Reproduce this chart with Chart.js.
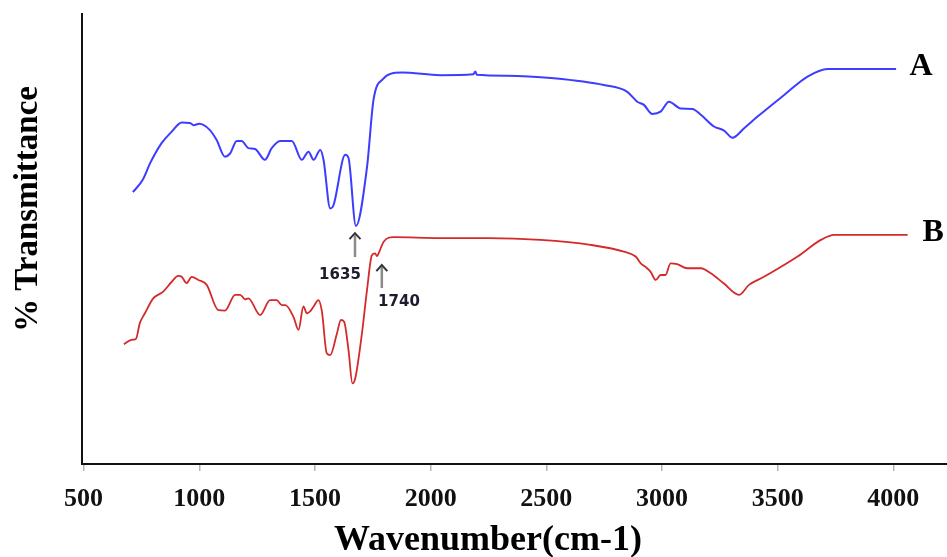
<!DOCTYPE html>
<html>
<head>
<meta charset="utf-8">
<title>FTIR spectra</title>
<script src="https://cdn.jsdelivr.net/npm/chart.js@4.4.1/dist/chart.umd.min.js"></script>
<style>
  html, body { margin: 0; padding: 0; background: #fff; }
  #wrap { width: 947px; height: 557px; }
</style>
</head>
<body>
<div id="wrap"><canvas id="ftir" width="947" height="557"></canvas></div>
<script>
// spectrum A (blue)
const wavenumberA = [713, 757, 787, 837, 880, 924, 960, 975, 1000, 1046, 1075, 1111, 1133, 1162, 1183, 1212, 1241, 1284, 1313, 1349, 1400, 1443, 1472, 1494, 1523, 1537, 1566, 1580, 1631, 1645, 1677, 1725, 1753, 1797, 1826, 1876, 2042, 2185, 2193, 2200, 2331, 2533, 2749, 2850, 2893, 2922, 2958, 2994, 3030, 3081, 3132, 3168, 3225, 3268, 3305, 3355, 3413, 3528, 3629, 3716, 4012];
const transA = [60.4, 63.3, 66.8, 71.3, 73.8, 75.9, 75.8, 75.3, 75.6, 74.2, 72, 68.3, 69, 71.8, 71.8, 70.2, 70, 67.6, 70.2, 71.8, 71.8, 67.6, 69.4, 67.6, 69.8, 67.6, 56.8, 57.5, 68.7, 68, 52.9, 66, 80.9, 85.7, 86.7, 87, 86.4, 86.6, 87.2, 86.5, 86.3, 85.7, 84.2, 82.7, 80.5, 79.8, 77.8, 78.3, 80.5, 79, 78.9, 77.6, 75, 74.1, 72.5, 74.6, 77.2, 82, 86.1, 87.8, 87.8];

// spectrum B (red)
const wavenumberB = [674, 707, 726, 743, 765, 801, 844, 881, 909, 924, 945, 967, 996, 1032, 1082, 1111, 1155, 1177, 1198, 1212, 1263, 1306, 1335, 1357, 1372, 1407, 1429, 1450, 1465, 1479, 1494, 1515, 1530, 1551, 1566, 1595, 1612, 1626, 1645, 1662, 1674, 1703, 1725, 1746, 1760, 1768, 1775, 1797, 1840, 2042, 2250, 2475, 2691, 2835, 2886, 2908, 2929, 2951, 2973, 2994, 3015, 3037, 3066, 3109, 3168, 3211, 3268, 3333, 3376, 3441, 3586, 3687, 3745, 4062];
const transB = [26.6, 27.6, 27.8, 31.3, 33.5, 36.8, 38.3, 40.5, 41.8, 41.6, 40.2, 41.6, 40.9, 39.8, 34.2, 34.1, 37.6, 37.6, 36.6, 36.8, 33.1, 36.4, 36.4, 35.3, 35.3, 32.7, 29.8, 35, 33.5, 33.9, 35, 36.4, 33.9, 24.6, 24.2, 29, 32, 31.6, 25.3, 17.9, 19, 29, 38.7, 46.4, 46.8, 46.2, 46.8, 49.4, 50.4, 50.2, 50.2, 49.8, 48.7, 47.2, 46.1, 44.6, 43.8, 42.7, 40.9, 42, 42, 44.6, 44.4, 43.5, 43.5, 42.4, 40.1, 37.6, 39.8, 41.6, 46.1, 49.8, 50.9, 50.9];

const xTicks = [500, 1000, 1500, 2000, 2500, 3000, 3500, 4000];

// peak markers: [label, wavenumber, arrow tip, arrow base, label x, label y]
const peakMarks = [
    ['1635', 1673, 51.3, 46.0, 1608, 42.0],
    ['1740', 1789, 44.2, 39.1, 1863, 36.0]
];
// curve names at the right end: [text, x, y]
const curveNames = [['A', 4120, 88.2], ['B', 4172, 51.4]];

function toPoints(xs, ys) {
    return xs.map((x, i) => ({ x: x, y: ys[i] }));
}

const serif = '"Liberation Serif", "Times New Roman", serif';

const extras = {
    id: 'extras',
    afterDraw(chart) {
        const ctx = chart.ctx;
        const xs = chart.scales.x;
        const ys = chart.scales.y;
        ctx.save();

        // arrows and peak labels
        peakMarks.forEach(m => {
            const px = xs.getPixelForValue(m[1]);
            const tip = ys.getPixelForValue(m[2]);
            const base = ys.getPixelForValue(m[3]);
            ctx.strokeStyle = '#8a8a8a';
            ctx.lineWidth = 2.5;
            ctx.beginPath();
            ctx.moveTo(px, base);
            ctx.lineTo(px, tip + 2);
            ctx.stroke();
            ctx.strokeStyle = '#333';
            ctx.lineWidth = 2;
            ctx.beginPath();
            ctx.moveTo(px - 5.5, tip + 6);
            ctx.lineTo(px, tip);
            ctx.lineTo(px + 5.5, tip + 6);
            ctx.stroke();
            ctx.fillStyle = '#1c1c2c';
            ctx.font = 'bold 15px "DejaVu Sans", Verdana, sans-serif';
            ctx.textAlign = 'center';
            ctx.textBaseline = 'middle';
            ctx.fillText(m[0], xs.getPixelForValue(m[4]), ys.getPixelForValue(m[5]));
        });

        // A / B
        ctx.fillStyle = '#000';
        ctx.font = 'bold 32px ' + serif;
        ctx.textAlign = 'center';
        ctx.textBaseline = 'middle';
        curveNames.forEach(n => {
            ctx.fillText(n[0], xs.getPixelForValue(n[1]), ys.getPixelForValue(n[2]));
        });

        // axis titles
        ctx.font = 'bold 36px ' + serif;
        ctx.fillText('Wavenumber(cm-1)', 488, 541);

        ctx.translate(28, 209);
        ctx.rotate(-Math.PI / 2);
        ctx.font = 'bold 33px ' + serif;
        ctx.fillText('% Transmittance', 0, 0);
        ctx.restore();
    }
};

new Chart(document.getElementById('ftir'), {
    type: 'line',
    data: {
        datasets: [
            {
                label: 'A',
                data: toPoints(wavenumberA, transA),
                borderColor: '#3d3dff',
                borderWidth: 2,
                pointRadius: 0,
                cubicInterpolationMode: 'monotone',
                fill: false
            },
            {
                label: 'B',
                data: toPoints(wavenumberB, transB),
                borderColor: '#d42a2a',
                borderWidth: 1.8,
                pointRadius: 0,
                cubicInterpolationMode: 'monotone',
                fill: false
            }
        ]
    },
    options: {
        responsive: false,
        animation: false,
        devicePixelRatio: 1,
        layout: { padding: { top: 14, right: 0, left: 0, bottom: 0 } },
        plugins: {
            legend: { display: false },
            tooltip: { enabled: false }
        },
        scales: {
            x: {
                type: 'linear',
                min: 493,
                max: 4232,
                afterFit(scale) { scale.height = 93; },
                afterBuildTicks(scale) {
                    scale.ticks = xTicks.map(v => ({ value: v }));
                },
                border: { display: true, color: '#111', width: 2 },
                grid: {
                    drawOnChartArea: false,
                    drawTicks: true,
                    tickLength: 7,
                    color: '#b5b5b5',
                    lineWidth: 1.5
                },
                ticks: {
                    padding: 13,
                    color: '#111',
                    font: { family: serif, size: 26, weight: 'bold' },
                    maxRotation: 0,
                    callback: v => String(v)
                }
            },
            y: {
                min: 0,
                max: 100,
                afterFit(scale) { scale.width = 82; },
                border: { display: true, color: '#111', width: 2 },
                grid: { display: false },
                ticks: { display: false }
            }
        }
    },
    plugins: [extras]
});
</script>
</body>
</html>
